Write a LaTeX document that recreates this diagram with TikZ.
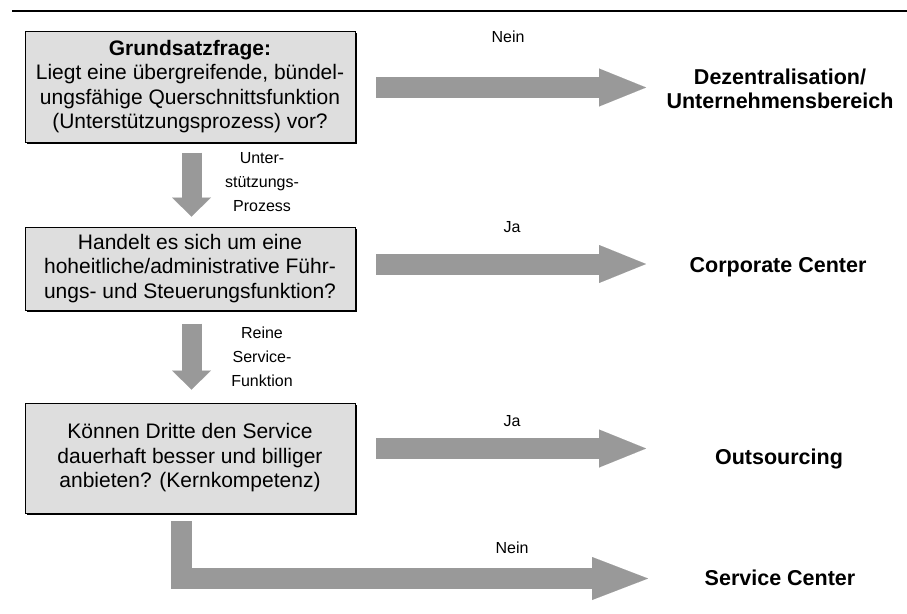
\documentclass[tikz,border=0pt]{standalone}
\usepackage{fontspec}
\setmainfont{Liberation Sans}
\usetikzlibrary{arrows.meta,calc,shadows}
\definecolor{boxgrey}{HTML}{DEDEDE}
\definecolor{arrowgrey}{HTML}{999999}
\begin{document}
\begin{tikzpicture}[x=1pt,y=-1pt,
  question/.style={draw=black, line width=1pt, fill=boxgrey,
    drop shadow={shadow xshift=1.5pt, shadow yshift=-1.5pt, fill=black, opacity=1},
    minimum width=330pt, inner sep=0pt, align=center,
    font=\fontsize{21}{24.5}\selectfont},
  result/.style={inner sep=0pt, align=center, font=\fontsize{21.5}{24}\selectfont\bfseries},
  answer/.style={inner sep=0pt, align=center, font=\fontsize{16}{24}\selectfont},
  sidearrow/.style={draw=arrowgrey, line width=21pt,
    -{Triangle[length=47pt, width=38pt, line width=0.01pt]}},
  downarrow/.style={draw=arrowgrey, line width=20pt,
    -{Triangle[length=19pt, width=39pt, line width=0.01pt]}},
  cornerarrow/.style={draw=arrowgrey, line width=21pt, line join=miter,
    -{Triangle[length=56pt, width=43pt, line width=0.01pt]}}]
\useasboundingbox (0,0) rectangle (907,613);

% header rule
\draw[line width=2pt] (12,11) -- (907,11);

% decision boxes
\node[question, minimum height=111pt] (b1) at (190,86.5)
  {\textbf{Grundsatzfrage:}\\Liegt eine übergreifende, bündel-\\ungsfähige Querschnittsfunktion\\(Unterstützungsprozess) vor?};
\node[question, minimum height=83pt] (b2) at (190,268.5)
  {Handelt es sich um eine\\hoheitliche/administrative Führ-\\ungs- und Steuerungsfunktion?};
\node[question, minimum height=110pt] (b3) at (190,458)
  {Können Dritte den Service\\dauerhaft besser und billiger\\anbieten? (Kernkompetenz)};

% outcomes
\node[result] (r1) at (780,89) {Dezentralisation/\\Unternehmensbereich};
\node[result] (r2) at (778,267) {Corporate Center};
\node[result] (r3) at (779,459) {Outsourcing};
\node[result] (r4) at (780,578) {Service Center};

% arrow labels
\node[answer] (l1) at (508,37) {Nein};
\node[answer] (l2) at (512,227) {Ja};
\node[answer] (l3) at (512,421) {Ja};
\node[answer] (l4) at (512,548) {Nein};
\node[answer] (l5) at (262,182) {Unter-\\stützungs-\\Prozess};
\node[answer] (l6) at (262,357) {Reine\\Service-\\Funktion};

% arrow end points
\coordinate (s1) at (376,87.5);  \coordinate (e1) at (646,87.5);
\coordinate (s2) at (376,264);   \coordinate (e2) at (646,264);
\coordinate (s3) at (376,448.5); \coordinate (e3) at (646,448.5);
\coordinate (s4) at (181.5,521); \coordinate (e4) at (648,578.5);

% horizontal arrows to the outcomes
\draw[sidearrow] (s1) -- (e1);
\draw[sidearrow] (s2) -- (e2);
\draw[sidearrow] (s3) -- (e3);
\draw[cornerarrow] (s4) |- (e4);

% downward arrows between the boxes
\draw[downarrow, shorten <=10pt, shorten >=10pt] ($(b1.south)+(1.5,0)$) -- ($(b2.north)+(1.5,0)$);
\draw[downarrow, shorten <=13pt, shorten >=13pt] ($(b2.south)+(1.5,0)$) -- ($(b3.north)+(1.5,0)$);
\end{tikzpicture}
\end{document}
